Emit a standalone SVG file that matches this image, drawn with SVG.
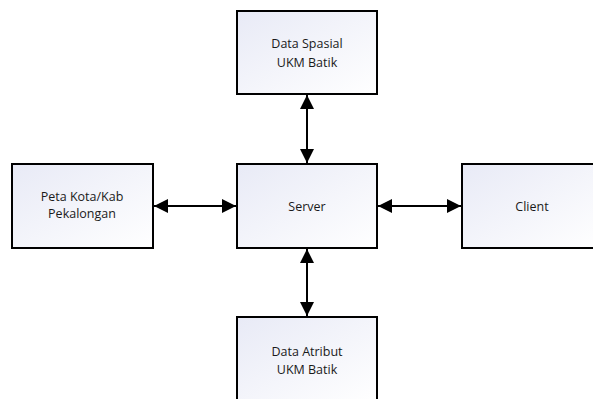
<svg xmlns="http://www.w3.org/2000/svg" width="593" height="399" viewBox="0 0 593 399">
<style>
.box{fill:url(#g);stroke:#000;stroke-width:2}
.t{font-family:"Open Sans","Liberation Sans",sans-serif;font-size:12.5px;fill:#1a1a1a;text-anchor:middle}
.c{stroke:#000;stroke-width:2;fill:none;marker-start:url(#a);marker-end:url(#a)}
</style>
<defs>
<linearGradient id="g" x1="0" y1="0" x2="1" y2="1">
<stop offset="0" stop-color="#e8eaf6"/>
<stop offset="1" stop-color="#ffffff"/>
</linearGradient>
<marker id="a" viewBox="0 0 14 14" refX="14" refY="7" markerWidth="14" markerHeight="14" markerUnits="userSpaceOnUse" orient="auto-start-reverse">
<path d="M0,0 L14,7 L0,14 Z" fill="#000"/>
</marker>
</defs>
<rect width="593" height="399" fill="#fff"/>
<g id="connectors">
<line class="c" x1="307" y1="95" x2="307" y2="163"/>
<line class="c" x1="307" y1="249" x2="307" y2="316"/>
<line class="c" x1="154" y1="206" x2="236" y2="206"/>
<line class="c" x1="378" y1="206" x2="461" y2="206"/>
</g>
<g id="spasial">
<rect class="box" x="237" y="11" width="140" height="83"/>
<text class="t" x="307" y="48">Data Spasial</text>
<text class="t" x="307" y="67">UKM Batik</text>
</g>
<g id="peta">
<rect class="box" x="12" y="164" width="141" height="84"/>
<text class="t" x="82" y="201">Peta Kota/Kab</text>
<text class="t" x="82" y="218">Pekalongan</text>
</g>
<g id="server">
<rect class="box" x="237" y="164" width="140" height="84"/>
<text class="t" x="307" y="211">Server</text>
</g>
<g id="client">
<rect class="box" x="462" y="164" width="140" height="84"/>
<text class="t" x="532" y="211">Client</text>
</g>
<g id="atribut">
<rect class="box" x="237" y="317" width="140" height="84"/>
<text class="t" x="307" y="356">Data Atribut</text>
<text class="t" x="307" y="374">UKM Batik</text>
</g>
</svg>
